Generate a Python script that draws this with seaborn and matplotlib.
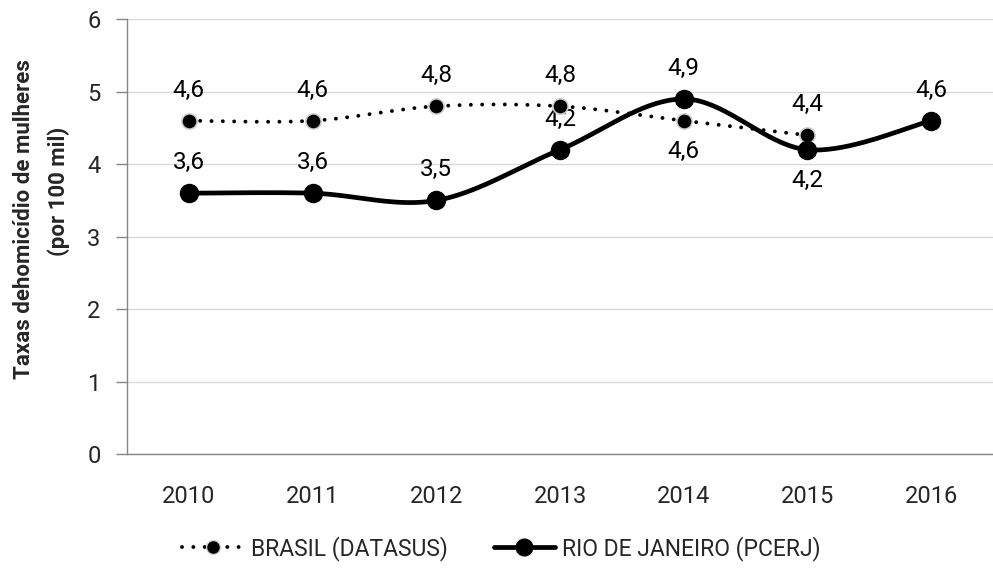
import numpy as np
import pandas as pd
import matplotlib
matplotlib.use("Agg")
import matplotlib.pyplot as plt
import seaborn as sns
from matplotlib.lines import Line2D

# data
anos = ["2010", "2011", "2012", "2013", "2014", "2015", "2016"]
brasil = [4.6, 4.6, 4.8, 4.8, 4.6, 4.4]          # no 2016 value
rio = [3.6, 3.6, 3.5, 4.2, 4.9, 4.2, 4.6]
brasil_pos = ["up", "up", "up", "up", "down", "up"]
rio_pos = ["up", "up", "up", "up", "up", "down", "up"]

sns.set_style("white")
plt.rcParams["font.family"] = ["Roboto", "DejaVu Sans"]


def smooth(xs, ys, n=40):
    # catmull-rom style bezier, like the "smoothed line" option in a spreadsheet
    p = np.column_stack([xs, ys]).astype(float)
    p = np.vstack([p[0], p, p[-1]])
    out = []
    for i in range(1, len(p) - 2):
        p0, p1, p2, p3 = p[i - 1], p[i], p[i + 1], p[i + 2]
        c1 = p1 + (p2 - p0) / 6
        c2 = p2 - (p3 - p1) / 6
        t = np.linspace(0, 1, n)[:, None]
        seg = ((1 - t) ** 3) * p1 + 3 * ((1 - t) ** 2) * t * c1 + 3 * (1 - t) * t ** 2 * c2 + t ** 3 * p2
        out.append(seg if i == 1 else seg[1:])
    out = np.vstack(out)
    return pd.DataFrame({"x": out[:, 0], "y": out[:, 1]})


fig = plt.figure(figsize=(9.93, 5.74), dpi=100)
ax = fig.add_axes([0.1279, 0.209, 0.8721, 0.7574])

xb = np.arange(len(brasil))
xr = np.arange(len(rio))

sb = smooth(xb, brasil)
sr = smooth(xr, rio)

sns.lineplot(data=sb, x="x", y="y", ax=ax, color="black", lw=2.8, sort=False,
             linestyle=(0, (0.01, 2.9)), dash_capstyle="round", zorder=3)
sns.lineplot(data=sr, x="x", y="y", ax=ax, color="black", lw=3.4, sort=False, zorder=4)

ax.plot(xb, brasil, "o", ms=11, mfc="black", mec="#d0d0d0", mew=1.2, zorder=5)
ax.plot(xr, rio, "o", ms=13, mfc="black", mec="black", zorder=6)

for xs, vals, pos in [(xb, brasil, brasil_pos), (xr, rio, rio_pos)]:
    for x, v, p in zip(xs, vals, pos):
        dy = 22 if p == "up" else -22
        ax.annotate(f"{v:.1f}".replace(".", ","), (x, v), xytext=(0, dy),
                    textcoords="offset points", ha="center", va="center",
                    fontsize=17.5, color="black")

ax.set_xlim(-0.5, 6.42)
ax.set_ylim(0, 6)
ax.set_yticks(range(0, 7))
ax.set_xticks(range(len(anos)))
ax.set_xticklabels(anos)
ax.set_xticks(np.arange(-0.5, 7, 1), minor=True)
ax.tick_params(axis="x", which="major", length=0, pad=22, labelsize=17)
ax.tick_params(axis="x", which="minor", length=7, width=1, color="#868686", direction="out")
ax.tick_params(axis="y", length=8, width=1, color="#868686", direction="out", pad=11, labelsize=17,
               left=True)
ax.set_xlabel("")
ax.set_ylabel("")
ax.grid(axis="y", color="#d9d9d9", lw=1)
ax.set_axisbelow(True)
for s in ["top", "right"]:
    ax.spines[s].set_visible(False)
for s in ["left", "bottom"]:
    ax.spines[s].set_color("#868686")
    ax.spines[s].set_linewidth(1)

fig.text(24 / 993, 1 - 219 / 574, "Taxas dehomicídio de mulheres", rotation=90,
         ha="center", va="center", fontsize=16, fontweight="bold")
fig.text(59 / 993, 1 - 191 / 574, "(por 100 mil)", rotation=90,
         ha="center", va="center", fontsize=16, fontweight="bold")

handles = [
    Line2D([], [], color="black", lw=2.8, linestyle=(0, (0.01, 2.9)), dash_capstyle="round",
           marker="o", ms=10, mfc="black", mec="#d0d0d0"),
    Line2D([], [], color="black", lw=3.4, marker="o", ms=12, mfc="black", mec="black"),
]
fig.legend(handles, ["BRASIL (DATASUS)", "RIO DE JANEIRO (PCERJ)"], loc="center",
           bbox_to_anchor=(0.505, 0.045), ncol=2, frameon=False, fontsize=16.5,
           handlelength=2.7, columnspacing=2.0, handletextpad=0.3)

fig.savefig("out.png", dpi=100)
